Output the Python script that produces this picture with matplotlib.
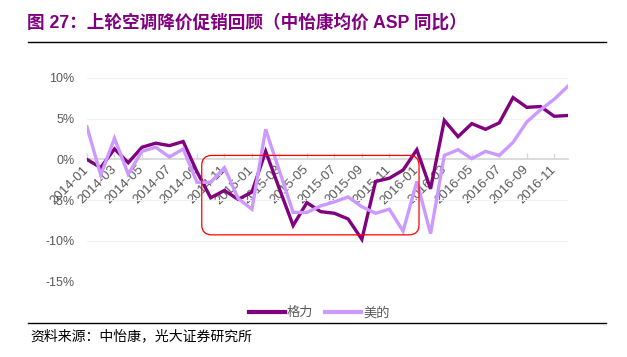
import matplotlib
matplotlib.use("Agg")
import matplotlib.pyplot as plt
from matplotlib.patches import FancyBboxPatch
from matplotlib.lines import Line2D

plt.rcParams['font.family'] = ['Liberation Sans', 'Noto Sans CJK SC', 'DejaVu Sans']

# ---------------- data ----------------
months = ["2014-01", "2014-02", "2014-03", "2014-04", "2014-05", "2014-06",
          "2014-07", "2014-08", "2014-09", "2014-10", "2014-11", "2014-12",
          "2015-01", "2015-02", "2015-03", "2015-04", "2015-05", "2015-06",
          "2015-07", "2015-08", "2015-09", "2015-10", "2015-11", "2015-12",
          "2016-01", "2016-02", "2016-03", "2016-04", "2016-05", "2016-06",
          "2016-07", "2016-08", "2016-09", "2016-10", "2016-11", "2016-12"]

gree = [0.0, -1.0, 1.3, -0.4, 1.5, 2.0, 1.7, 2.2, -1.5, -4.7, -3.8, -4.9,
        -4.0, 1.0, -3.6, -8.1, -5.3, -6.4, -6.6, -7.3, -9.8, -2.7, -2.3, -1.3,
        1.2, -3.6, 4.8, 2.8, 4.4, 3.7, 4.5, 7.6, 6.4, 6.5, 5.3, 5.4]

midea = [4.0, -1.9, 2.6, -1.8, 1.0, 1.5, 0.3, 1.3, -2.8, -2.8, -1.0, -4.8,
         -6.1, 3.7, -1.4, -6.5, -6.5, -5.7, -5.2, -4.6, -5.8, -6.6, -6.1, -8.8,
         -2.7, -9.1, 0.5, 1.2, 0.1, 1.0, 0.5, 2.1, 4.6, 6.1, 7.4, 9.0]

series_names = ["格力", "美的"]
y_ticks = [-15, -10, -5, 0, 5, 10]
y_tick_labels = ["-15%", "-10%", "-5%", "0%", "5%", "10%"]

title = "图 27：上轮空调降价促销回顾（中怡康均价 ASP 同比）"
source = "资料来源：中怡康，光大证券研究所"

# highlight box (in month index / percent units)
box_x = (8.35, 24.16)
box_y = (-9.25, 0.5)

# ---------------- figure ----------------
W, H = 627, 357
fig = plt.figure(figsize=(W / 100, H / 100), dpi=100)
left_px, right_px, top_px, bot_px = 87, 568, 78, 281.7
ax = fig.add_axes([left_px / W, 1 - bot_px / H,
                   (right_px - left_px) / W, (bot_px - top_px) / H])

x = list(range(len(months)))
c_dark = "#800080"
c_light = "#CC99FF"
ax.plot(x, gree, color=c_dark, lw=2.4, solid_joinstyle='miter', zorder=3)
ax.plot(x, midea, color=c_light, lw=2.4, solid_joinstyle='miter', zorder=3.1)

ax.set_xlim(0, len(months) - 1)
ax.set_ylim(-15, 10)

# y axis
ax.set_yticks(y_ticks)
ax.set_yticklabels(y_tick_labels)
ax.tick_params(axis='y', length=0, pad=9, labelcolor='#595959', labelsize=9)
ax.yaxis.grid(True, color='#F2F2F2', lw=0.8)
ax.set_axisbelow(True)

# x axis at zero
for s in ['left', 'top', 'right']:
    ax.spines[s].set_visible(False)
ax.spines['bottom'].set_position(('data', 0))
ax.spines['bottom'].set_color('#D9D9D9')
ax.spines['bottom'].set_linewidth(1.3)
ax.set_xticks(x[::2])
ax.set_xticklabels(months[::2], rotation=45, ha='right', va='center',
                   rotation_mode='anchor')
ax.tick_params(axis='x', direction='in', length=4, width=1, color='#D9D9D9',
               pad=6, labelcolor='#595959', labelsize=9.5)

# red rounded box
rx = 0.73
aspect = (10 / 8.15) / rx
box = FancyBboxPatch((box_x[0], box_y[0]), box_x[1] - box_x[0], box_y[1] - box_y[0],
                     boxstyle=f"round,pad=0,rounding_size={rx}",
                     mutation_aspect=aspect, ec='#FF0000', fc='none', lw=0.9,
                     zorder=5, clip_on=False)
ax.add_patch(box)

# legend
handles = [Line2D([], [], color=c_dark, lw=3), Line2D([], [], color=c_light, lw=3)]
leg = fig.legend(handles, series_names, loc='center', ncol=2, frameon=False,
                 bbox_to_anchor=(319.5 / W, 1 - 312.7 / H),
                 handlelength=2.7, handletextpad=0.15, columnspacing=0.9,
                 prop={'family': ['Noto Sans CJK SC'], 'size': 9.5})
for t in leg.get_texts():
    t.set_color('#595959')

# title and rules
fig.text(27 / W, 1 - 23 / H, title, fontsize=12.7, fontweight='bold', color='#800080',
         va='center', ha='left', family=['Liberation Sans', 'Noto Sans CJK SC'])
fig.add_artist(Line2D([28 / W, 606 / W], [1 - 42 / H, 1 - 42 / H],
                      color='black', lw=1.0, transform=fig.transFigure))
fig.add_artist(Line2D([28 / W, 606 / W], [1 - 323.3 / H, 1 - 323.3 / H],
                      color='black', lw=1.0, transform=fig.transFigure))
fig.text(30 / W, 1 - 336 / H, source, fontsize=10, color='black',
         va='center', ha='left', family=['Noto Sans CJK SC'])

fig.savefig("out.png", dpi=100)
